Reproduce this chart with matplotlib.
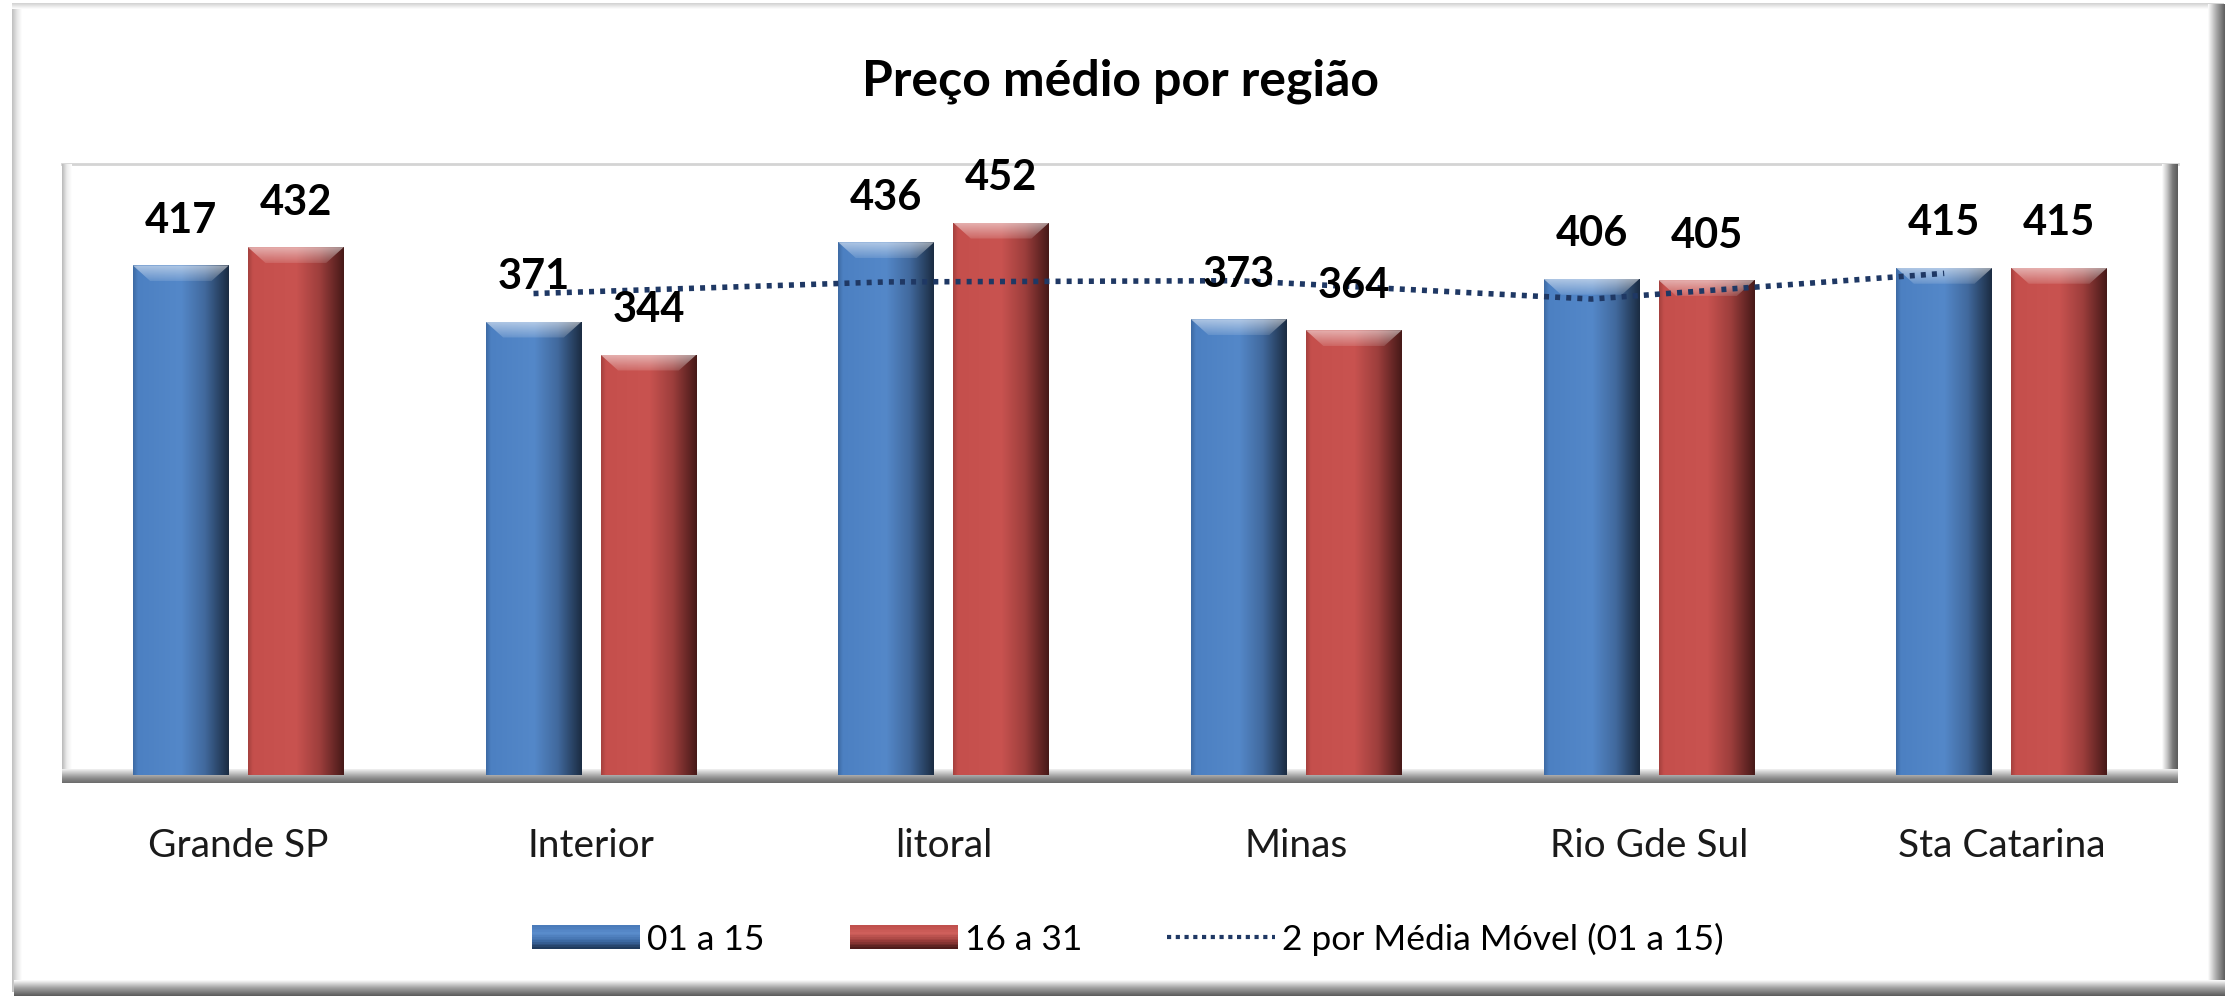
import numpy as np
import pandas as pd
import matplotlib
matplotlib.use("Agg")
import matplotlib.pyplot as plt
from matplotlib.patches import Rectangle, Polygon
from matplotlib.colors import LinearSegmentedColormap
from matplotlib.legend_handler import HandlerBase
from matplotlib.lines import Line2D

regions = ["Grande SP", "Interior", "litoral", "Minas", "Rio Gde Sul", "Sta Catarina"]
first_half = [417, 371, 436, 373, 406, 415]
second_half = [432, 344, 452, 364, 405, 415]
series_names = ["01 a 15", "16 a 31", "2 por Média Móvel (01 a 15)"]
title = "Preço médio por região"

# 2-period moving average of the first fortnight
moving_avg = pd.Series(first_half, dtype=float).rolling(2).mean()

BLUE_STOPS = [(0.0, "#3D6AA3"), (0.05, "#4C80C2"), (0.5, "#5488C9"),
              (0.75, "#41699D"), (1.0, "#1B2C42")]
RED_STOPS = [(0.0, "#A4403E"), (0.05, "#C54F4C"), (0.5, "#C95350"),
             (0.75, "#9D3E3C"), (1.0, "#461918")]

plt.rcParams["font.family"] = ["Lato", "DejaVu Sans"]

W, H = 2231, 998
fig = plt.figure(figsize=(W / 100, H / 100), dpi=100)
fig.patch.set_facecolor("white")

# background layer in pixel coordinates: outer frame and plot-area walls
bg = fig.add_axes([0, 0, 1, 1], zorder=-10)
bg.set_xlim(0, W)
bg.set_ylim(H, 0)
bg.axis("off")


def grad(ax, x0, x1, y0, y1, colors, horizontal=True, z=1):
    cmap = LinearSegmentedColormap.from_list("g", colors)
    g = np.linspace(0, 1, 256)
    g = g[None, :] if horizontal else g[:, None]
    ax.imshow(g, cmap=cmap, extent=(x0, x1, y1, y0), aspect="auto",
              interpolation="bilinear", zorder=z)


# outer frame
grad(bg, 12, 22, 4, 992, ["#BEBEBE", "#E6E6E6", "#FFFFFF"])
grad(bg, 12, 2224, 3, 9, ["#D0D0D0", "#FFFFFF"], horizontal=False)
grad(bg, 2208, 2225, 4, 994, ["#FFFFFF", "#A8A8A8", "#5E5E5E"])
grad(bg, 14, 2225, 980, 996, ["#FFFFFF", "#A0A0A0", "#5A5A5A"], horizontal=False)

# plot area walls and floor
px_l, px_r, px_t, px_b = 62, 2178, 164, 775
bg.plot([px_l, px_r], [px_t, px_t], color="#D4D4D4", lw=2, zorder=2)
grad(bg, px_l, px_l + 10, px_t, px_b + 6, ["#B8B8B8", "#EDEDED", "#FFFFFF"], z=2)
grad(bg, px_r - 16, px_r, px_t, px_b + 8, ["#FFFFFF", "#C4C4C4", "#7A7A7A", "#5A5A5A"], z=2)
grad(bg, px_l, px_r, px_b - 6, px_b + 8, ["#F2F2F2", "#BDBDBD", "#8A8A8A", "#6A6A6A"],
     horizontal=False, z=2)

ax = fig.add_axes([px_l / W, 1 - px_b / H, (px_r - px_l) / W, (px_b - px_t) / H])
ax.patch.set_alpha(0)

x = np.arange(len(regions))
width = 0.272
off = 0.163
bars1 = ax.bar(x - off, first_half, width, color="#4F81BD", zorder=3)
bars2 = ax.bar(x + off, second_half, width, color="#C0504D", zorder=3)


def shade_bar(rect, stops):
    x0, w, h = rect.get_x(), rect.get_width(), rect.get_height()
    cmap = LinearSegmentedColormap.from_list("b", stops)
    im = ax.imshow(np.linspace(0, 1, 256)[None, :], cmap=cmap,
                   extent=(x0, x0 + w, 0, h), aspect="auto",
                   interpolation="bilinear", zorder=3.1)
    im.set_clip_path(rect)
    # bevelled top face
    dx, dy = 0.05, 13
    top = Polygon([(x0, h), (x0 + w, h), (x0 + w - dx, h - dy), (x0 + dx, h - dy)],
                  closed=True, fc="none", ec="none", zorder=3.2)
    ax.add_patch(top)
    shine = np.zeros((64, 1, 4))
    shine[..., :3] = 1.0
    shine[:, 0, 3] = np.linspace(0.55, 0.12, 64)
    im2 = ax.imshow(shine, extent=(x0, x0 + w, h - dy, h), aspect="auto",
                    interpolation="bilinear", zorder=3.3)
    im2.set_clip_path(top)


for r in bars1:
    shade_bar(r, BLUE_STOPS)
for r in bars2:
    shade_bar(r, RED_STOPS)

ax.plot(x[1:] - off, moving_avg[1:], color="#1F3864", lw=4,
        linestyle=(0, (0.9, 1.1)), zorder=4)

for rect, v in zip(list(bars1) + list(bars2), first_half + second_half):
    ax.annotate(f"{v}", (rect.get_x() + rect.get_width() / 2, v),
                xytext=(0, 32), textcoords="offset points", ha="center",
                va="center", fontsize=30, fontweight="bold", zorder=5)

ax.set_xlim(-0.5, 5.5)
ax.set_ylim(0, 500)
ax.set_xticks(x)
ax.set_xticklabels(regions, fontsize=28, color="#1A1A1A")
ax.set_yticks([])
ax.tick_params(axis="x", length=0, pad=38)
for s in ax.spines.values():
    s.set_visible(False)

fig.text(1120 / W, 1 - 95 / H, title, ha="center", va="baseline",
         fontsize=36, fontweight="bold")


class BevelHandler(HandlerBase):
    def __init__(self, stops):
        super().__init__()
        self.cmap = LinearSegmentedColormap.from_list("h", stops)

    def create_artists(self, legend, orig_handle, xdescent, ydescent,
                       width, height, fontsize, trans):
        n = 14
        arts = []
        for i in range(n):
            arts.append(Rectangle((-xdescent, -ydescent + height * i / n), width,
                                  height / n * 1.05, fc=self.cmap(i / (n - 1)),
                                  ec="none", transform=trans))
        return arts


h_blue = Rectangle((0, 0), 1, 1)
h_red = Rectangle((0, 0), 1, 1)
h_ma = Line2D([], [], color="#1F3864", lw=3, linestyle=(0, (1, 1.1)))
fig.legend([h_blue, h_red, h_ma], series_names, loc="center",
           bbox_to_anchor=(1128 / W, 1 - 939 / H), ncol=3, frameon=False,
           fontsize=25.5, handlelength=3.05, handleheight=0.64,
           handletextpad=0.2, columnspacing=2.4,
           handler_map={h_blue: BevelHandler(["#1F3A5C", "#3F6DA8", "#5A8DCD", "#4A7BBA"]),
                        h_red: BevelHandler(["#4E1C1B", "#9C3E3C", "#D0605C", "#C0504D"])})

fig.savefig("out.png", dpi=100)
